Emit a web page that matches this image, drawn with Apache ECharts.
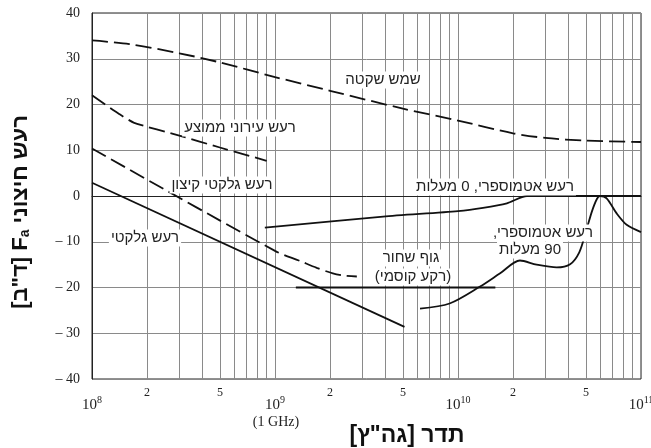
<!DOCTYPE html>
<html><head><meta charset="utf-8">
<script src="https://cdn.jsdelivr.net/npm/echarts@6/dist/echarts.min.js"></script>
<style>html,body{margin:0;padding:0;background:#fff}#c{width:651px;height:448px}</style>
</head><body><div id="c"></div>
<script>
// ---------- data (frequency in Hz, Fa in dB) ----------
const quietSunFreq = [1e8, 1.6e8, 3e8, 5e8, 1e9, 2e9, 5e9, 1e10, 2e10, 3e10, 5e10, 1e11];
const quietSunDb   = [34, 33.2, 31.2, 29.2, 26, 23, 19.1, 16.5, 13.7, 12.7, 12.1, 11.8];

const manMadeFreq = [1e8, 1.4e8, 1.7e8, 3e8, 5e8, 9e8];
const manMadeDb   = [22, 18, 16, 13.2, 10.6, 7.7];

const galacticPeakFreq = [1e8, 1e9, 1.37e9, 1.69e9, 2.07e9, 2.4e9, 2.8e9];
const galacticPeakDb   = [10.4, -12, -14.2, -15.7, -16.9, -17.4, -17.6];

const galacticFreq = [1e8, 5.1e9];
const galacticDb   = [2.9, -28.6];

const blackBodyFreq = [1.3e9, 1.6e10];
const blackBodyDb   = [-20, -20];

const atmo0Freq = [8.8e8, 3.9e9, 1e10, 1.37e10, 1.85e10, 2.38e10, 1e11];
const atmo0Db   = [-6.9, -4.5, -3.3, -2.6, -1.6, 0, 0];

const atmo90Freq = [6.2e9, 9.0e9, 1.32e10, 1.7e10, 2.18e10, 2.69e10, 3.46e10, 4.1e10, 4.6e10, 5.0e10, 5.4e10, 5.75e10, 5.97e10, 6.49e10, 7.36e10, 8.35e10, 1e11];
const atmo90Db   = [-24.6, -23.5, -19.8, -16.9, -14.1, -15.0, -15.6, -14.9, -12.3, -7.8, -3.3, -0.6, 0, -0.5, -3.8, -6.3, -7.9];

// ---------- axis ticks ----------
const xGridValues = [1e8,2e8,3e8,4e8,5e8,6e8,7e8,8e8,9e8,
                     1e9,2e9,3e9,4e9,5e9,6e9,7e9,8e9,9e9,
                     1e10,2e10,3e10,4e10,5e10,6e10,7e10,8e10,9e10,1e11];
const xLabelValues = [1e8, 2e8, 5e8, 1e9, 2e9, 5e9, 1e10, 2e10, 5e10, 1e11];
const xLabelTexts  = ['10^8', '2', '5', '10^9', '2', '5', '10^10', '2', '5', '10^11'];
const xLabelNote = '(1 GHz)';
const yMin = -40, yMax = 40, yStep = 10;

// ---------- texts ----------
const RLM = '\u200F';
const heb = s => RLM + s + RLM;
const curveLabels = [
  {t: 'שמש שקטה', x: 383, y: 80},
  {t: 'רעש עירוני ממוצע', x: 240, y: 128},
  {t: 'רעש גלקטי קיצון', x: 222, y: 185},
  {t: 'רעש גלקטי', x: 145, y: 238},
  {t: 'רעש אטמוספרי, 0 מעלות', x: 495, y: 187},
  {t: 'רעש אטמוספרי,', x: 543, y: 233},
  {t: '90 מעלות', x: 530, y: 250},
  {t: 'גוף שחור', x: 411, y: 258},
  {t: '(רקע קוסמי)', x: 413, y: 277}
];

const pairs = (f, v) => f.map((x, i) => [x, v[i]]);
const solid = {color: '#111', width: 1.8, type: 'solid'};
const dashed = {color: '#111', width: 1.8, type: [16, 6]};
function line(name, f, v, ls, smooth) {
  return {name, type: 'line', data: pairs(f, v), symbol: 'none', showSymbol: false,
          lineStyle: ls, smooth: smooth || false, clip: true, silent: true};
}

const sans = "'Liberation Sans', 'DejaVu Sans', Arial, sans-serif";
const serif = "'Liberation Serif', 'DejaVu Serif', 'Times New Roman', serif";

function xLabelFormatter(value) {
  let idx = 0, best = Infinity;
  xLabelValues.forEach((v, i) => { const d = Math.abs(Math.log10(v) - Math.log10(value)); if (d < best) { best = d; idx = i; } });
  const t = xLabelTexts[idx];
  if (t.indexOf('^') >= 0) {
    const [b, p] = t.split('^');
    return '{b|' + b + '}{p|' + p + '}';
  }
  return '{m|' + t + '}';
}

const chart = echarts.init(document.getElementById('c'), null, {renderer: 'canvas'});
chart.setOption({
  animation: false,
  backgroundColor: '#fff',
  grid: {left: 92, right: 10, top: 13, bottom: 69, outerBoundsMode: 'none', containLabel: false,
         show: true, borderColor: '#222', borderWidth: 1},
  xAxis: {
    type: 'log', logBase: 10, min: 1e8, max: 1e11,
    axisLine: {show: true, lineStyle: {color: '#222', width: 1}},
    axisTick: {show: false, customValues: xGridValues},
    splitLine: {show: true, lineStyle: {color: '#8a8a8a', width: 1}},
    minorTick: {show: false}, minorSplitLine: {show: false},
    axisLabel: {
      customValues: xLabelValues, margin: 7, formatter: xLabelFormatter,
      hideOverlap: false, showMinLabel: true, showMaxLabel: true,
      rich: {
        m: {fontFamily: serif, fontSize: 12, color: '#222', lineHeight: 14},
        b: {fontFamily: serif, fontSize: 15, color: '#222', lineHeight: 16, padding: [12, 0, 0, 0], verticalAlign: 'top'},
        p: {fontFamily: serif, fontSize: 10, color: '#222', lineHeight: 11, padding: [9, 0, 0, 0], verticalAlign: 'top'}
      }
    }
  },
  yAxis: {
    type: 'value', min: yMin, max: yMax, interval: yStep,
    axisLine: {show: true, lineStyle: {color: '#222', width: 1}},
    axisTick: {show: false},
    splitLine: {show: true, lineStyle: {color: '#8a8a8a', width: 1}},
    axisLabel: {margin: 12, fontFamily: serif, fontSize: 14, color: '#222',
      formatter: v => v < 0 ? '\u2013 ' + (-v) : String(v)}
  },
  series: [
    line('quietSun', quietSunFreq, quietSunDb, dashed, 0.3),
    line('manMade', manMadeFreq, manMadeDb, dashed, 0.2),
    line('galacticPeak', galacticPeakFreq, galacticPeakDb, dashed, 0.3),
    line('galactic', galacticFreq, galacticDb, solid),
    line('blackBody', blackBodyFreq, blackBodyDb, solid),
    line('atmo0', atmo0Freq, atmo0Db, solid, 0.25),
    line('atmo90', atmo90Freq, atmo90Db, solid, 0.3)
  ],
  graphic: [
    ...curveLabels.map(l => ({
      type: 'text', x: l.x, y: l.y, z: 50,
      style: {text: heb(l.t), fontFamily: sans, fontSize: 15, fill: '#222',
              align: 'center', verticalAlign: 'middle', backgroundColor: '#fff', padding: [1, 2]}
    })),
    {
      type: 'text', x: 276, y: 422, z: 50,
      style: {text: xLabelNote, fontFamily: serif, fontSize: 14, fill: '#222',
              align: 'center', verticalAlign: 'middle'}
    },
    {
      type: 'text', x: 407, y: 436, z: 50,
      style: {text: heb('תדר [גה"ץ]'), fontFamily: sans, fontSize: 23, fontWeight: 'bold', fill: '#111',
              align: 'center', verticalAlign: 'middle'}
    },
    {
      type: 'text', x: 19, y: 212, rotation: Math.PI / 2, z: 50,
      style: {
        text: '{h|' + heb('[ד"ב]') + '}{h| }{h|F}{s|a}{h| }{h|' + heb('רעש חיצוני') + '}',
        align: 'center', verticalAlign: 'middle',
        rich: {
          h: {fontFamily: sans, fontSize: 22, fontWeight: 'bold', fill: '#111', lineHeight: 26, verticalAlign: 'bottom'},
          s: {fontFamily: sans, fontSize: 14, fontWeight: 'bold', fill: '#111', lineHeight: 14, padding: [7, 0, 0, 0], verticalAlign: 'bottom'}
        }
      }
    }
  ]
});
</script></body></html>
